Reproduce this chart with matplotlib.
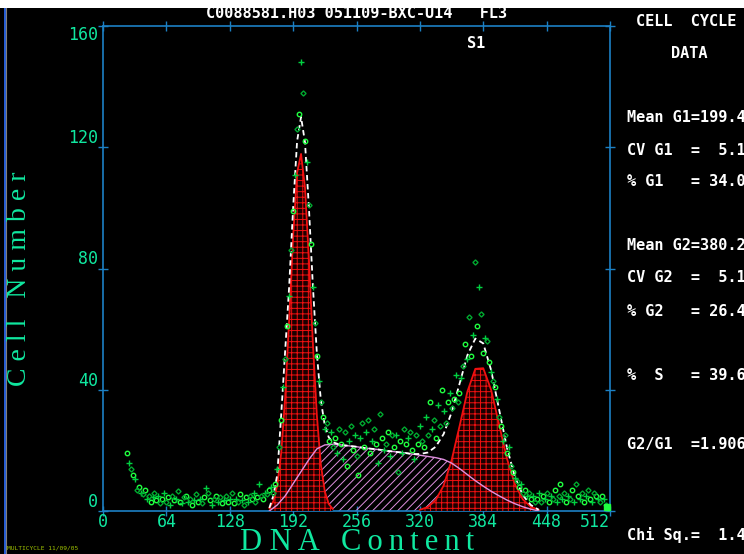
import numpy as np
import matplotlib
matplotlib.use("Agg")
import matplotlib.pyplot as plt
from matplotlib.patches import Rectangle
from matplotlib.lines import Line2D

# histogram points (channel, cell count)
debris_ch = list(range(24, 172, 2))
debris_n = [19, 16, 14, 12, 10.5, 7, 8, 6, 5.5, 7,
            4, 5, 3, 4.5, 6, 3.5, 5, 2.5, 4, 6,
            3, 4.5, 2, 5, 3.5, 4, 6.5, 3, 2.5, 4.5,
            5, 3, 4, 2, 3.5, 5.5, 3, 4, 2.5, 4.5,
            7.5, 6, 3.5, 2, 4, 5, 3, 4.5, 2.5, 3.5,
            5, 3, 4, 6, 2.5, 4, 3, 5.5, 3.5, 2,
            4.5, 3, 5, 4, 6, 3, 4.5, 9, 5, 4,
            6, 5.5, 7, 8]
g1_pts_ch = list(range(172, 234, 2))
g1_pts_n = [6, 9, 14, 21, 30, 41, 50, 61, 71, 86,
            99, 111, 126, 131, 148, 138, 122, 115, 101, 88,
            74, 62, 51, 43, 36, 31, 27, 29, 23, 26,
            21]
s_pts_ch = list(range(234, 334, 2))
s_pts_n = [24, 19, 27, 22, 17, 26, 15, 23, 28, 20,
           25, 18, 12, 24, 29, 21, 26, 30, 19, 23,
           27, 22, 16, 32, 24, 20, 22, 26, 18, 25,
           21, 25, 13, 23, 19, 27, 22, 24, 26, 20,
           17, 25, 22, 28, 23, 21, 31, 25, 36, 27]
g2_pts_ch = list(range(334, 442, 2))
g2_pts_n = [30, 24, 35, 28, 40, 33, 29, 36, 39, 34,
            37, 45, 36, 39, 44, 48, 55, 50, 64, 51,
            58, 82, 61, 74, 65, 52, 57, 56, 49, 46,
            43, 41, 37, 31, 28, 23, 25, 19, 21, 15,
            13, 11, 10, 8, 9, 6, 7, 5, 6, 4,
            5, 3, 4, 6]
tail_ch = list(range(442, 512, 2))
tail_n = [3, 5, 4, 6, 3, 5, 4, 7, 3, 5,
          9, 4, 6, 3, 5, 4, 7, 3, 9, 5,
          4, 6, 3, 5, 7, 4, 3, 6, 5, 4,
          3, 5, 4, 2, 1]

# model components
g1_ch = [168, 172, 176, 180, 184, 188, 192, 196, 200, 204, 208, 212, 216, 220, 224, 228, 232]
g1_n = [1.0, 3.2, 8.5, 19.3, 37.7, 63.2, 90.7, 111.6, 117.8, 106.6, 82.7, 55.0, 31.4, 15.3, 6.4, 2.3, 0.7]
g2_ch = [320, 328, 336, 344, 352, 360, 368, 376, 384, 392, 400, 408, 416, 424, 432, 440]
g2_n = [0.4, 1.3, 3.6, 8.4, 16.7, 27.9, 39.4, 46.9, 47.1, 39.9, 28.5, 17.2, 8.8, 3.8, 1.4, 0.4]
s_ch = list(range(168, 441, 8))
s_n = [0, 2, 5, 9, 13, 17, 20.5, 21.8, 22, 21.8, 21.5, 21.2, 20.8, 20.5, 20.2, 19.8,
       19.5, 19.2, 18.8, 18.4, 18.0, 17.6, 17.0, 15.8, 14, 12, 10, 8.2, 6.5, 5, 3.6,
       2.4, 1.4, 0.6, 0]
fit_ch = list(range(168, 233, 4)) + list(range(240, 441, 8))
fit_n = [1, 5, 12, 32, 53, 74, 100, 122, 130, 121.6, 99.7, 74, 51.9, 36.5, 28.2, 24.3, 22.7,
         21.8, 21.5, 21.2, 20.8, 20.5, 20.2, 19.8, 19.5, 19.2, 18.8, 18.8, 19.3, 21.2, 25.4,
         32.5, 41.9, 51.4, 56.9, 55.3, 46.4, 33.5, 20.8, 11.2, 5.2, 2.0, 0.4]

stats = ["Mean G1=199.4", "CV G1  =  5.1", "% G1   = 34.0",
         "Mean G2=380.2", "CV G2  =  5.1", "% G2   = 26.4",
         "%  S   = 39.6", "G2/G1  =1.906", "Chi Sq.=  1.4"]
stats_y = [118, 150, 182, 246, 278, 311, 375, 445, 535]

W, H = 744, 554
BLUE = "#1c80c4"
GREEN = "#10e8a0"
RED = "#f01010"
PINK = "#e090e0"
MONO = "DejaVu Sans Mono"
plt.rcParams["hatch.linewidth"] = 0.7

fig = plt.figure(figsize=(W / 100, H / 100), dpi=100, facecolor="black")
ax = fig.add_axes([103 / W, 1 - 511 / H, 507 / W, 485 / H])
ax.set_facecolor("black")
ax.set_xlim(0, 512)
ax.set_ylim(0, 160)

# S phase
ax.fill_between(s_ch, s_n, 0, facecolor="none", edgecolor=PINK, hatch="////", linewidth=0, zorder=2)
ax.plot(s_ch, s_n, color=PINK, lw=1.0, zorder=3.5)
# G1 / G2 peaks
for xc, yc in ((g1_ch, g1_n), (g2_ch, g2_n)):
    ax.fill_between(xc, yc, 0, facecolor="#1a0000", edgecolor=RED, hatch="+++", linewidth=0, zorder=3)
    ax.plot(xc, yc, color=RED, lw=1.3, zorder=3.2)
# total fit
ax.plot(fit_ch, fit_n, color="white", lw=1.3, ls=(0, (3, 2)), zorder=4)

# data points
pts_ch = np.array(debris_ch + g1_pts_ch + s_pts_ch + g2_pts_ch + tail_ch)
pts_n = np.array(debris_n + g1_pts_n + s_pts_n + g2_pts_n + tail_n)
idx = np.arange(len(pts_ch))
styles = [("o", "#20ff40", 3.2), ("+", "#00d040", 4.0), ("D", "#00a830", 2.6)]
for k, (m, c, ms) in enumerate(styles):
    sel = idx % 3 == k
    ax.plot(pts_ch[sel], pts_n[sel], ls="none", marker=m, ms=ms, mfc="none", mec=c, mew=1.0, zorder=5)
ax.plot([509], [1.2], ls="none", marker="s", ms=5, color="#20ff40", zorder=5, clip_on=False)

for s in ax.spines.values():
    s.set_color(BLUE)
    s.set_linewidth(1.2)
ax.set_xticks(range(0, 513, 64))
ax.set_yticks([0, 40, 80, 120, 160])
ax.tick_params(direction="inout", length=7, width=1, colors=BLUE, labelcolor=GREEN,
               top=True, right=True, labelsize=12)
ax.tick_params(axis="x", pad=-2)
ax.tick_params(axis="y", pad=0)
for lab in ax.get_xticklabels() + ax.get_yticklabels():
    lab.set_fontfamily(MONO)
xl = ax.get_xticklabels()
xl[-1].set_ha("right")
yl = ax.get_yticklabels()
for lab in yl[:-1]:
    lab.set_va("bottom")
yl[-1].set_va("top")

# axis titles
fig.text(20 / W, 1 - 279 / H, "C e l l   N u m b e r", rotation=90, ha="center", va="center",
         color=GREEN, fontsize=20, family=["Liberation Serif", "DejaVu Serif"])
fig.text(357 / W, 1 - 550 / H, "D N A   C\u2009o\u2009n\u2009t\u2009e\u2009n\u2009t", ha="center",
         va="baseline", color=GREEN, fontsize=22, family=["Liberation Serif", "DejaVu Serif"])

# header and side panel
fig.text(357 / W, 1 - 13 / H, "C0088581.H03 051109-BXC-U14   FL3", ha="center", va="center",
         color="white", fontsize=11, family=MONO, weight="bold")
fig.text(476 / W, 1 - 43 / H, "S1", ha="center", va="center", color="white", fontsize=11,
         family=MONO, weight="bold")
fig.text(636 / W, 1 - 22 / H, "CELL  CYCLE", ha="left", va="center", color="white", fontsize=11,
         family=MONO, weight="bold")
fig.text(689 / W, 1 - 53 / H, "DATA", ha="center", va="center", color="white", fontsize=11,
         family=MONO, weight="bold")
for t, y in zip(stats, stats_y):
    fig.text(627 / W, 1 - y / H, t, ha="left", va="center", color="white", fontsize=11,
             family=MONO, weight="bold")
fig.text(7 / W, 1 - 548 / H, "MULTICYCLE 11/09/05", ha="left", va="center", color="#a0c400",
         fontsize=4.5, family=MONO)

# window chrome: white strip on top, left border
fig.add_artist(Rectangle((0, 1 - 8 / H), 1, 8 / H, transform=fig.transFigure,
                         facecolor="white", edgecolor="none", zorder=10))
fig.add_artist(Line2D([4.5 / W] * 2, [0, 1 - 8 / H], color="#3070ff", lw=1.2))
fig.add_artist(Line2D([6.5 / W] * 2, [0, 1 - 8 / H], color="#808080", lw=0.8))

fig.savefig("out.png", dpi=100, facecolor="black")
